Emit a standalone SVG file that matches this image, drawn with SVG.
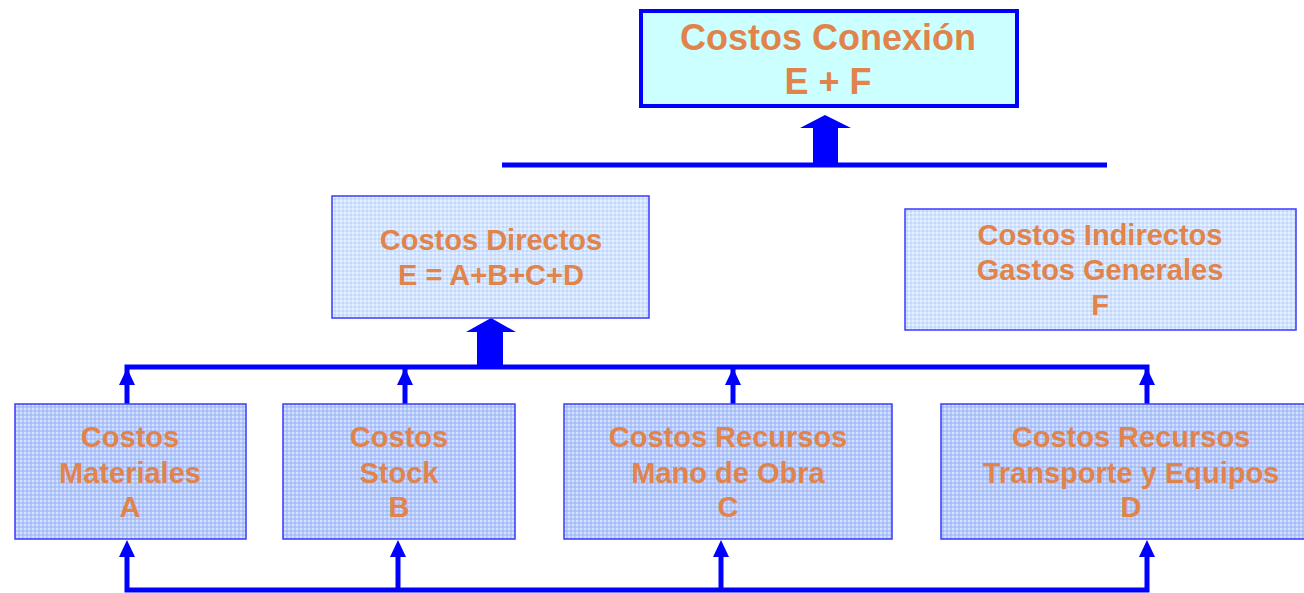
<svg xmlns="http://www.w3.org/2000/svg" width="1304" height="593" viewBox="0 0 1304 593">
<defs>
<pattern id="pDark" width="4" height="4" patternUnits="userSpaceOnUse">
<rect width="4" height="4" fill="#b4c8fb"/>
<rect x="0" y="0" width="2" height="2" fill="#d4e0ff"/>
<rect x="2" y="2" width="2" height="2" fill="#a4bcf6"/>
</pattern>
<pattern id="pLight" width="4" height="4" patternUnits="userSpaceOnUse">
<rect width="4" height="4" fill="#d2e4ff"/>
<rect x="0" y="0" width="2" height="2" fill="#e6f0ff"/>
<rect x="2" y="2" width="2" height="2" fill="#c2d8fa"/>
</pattern>
<marker id="ah" viewBox="0 0 16 17" refX="8" refY="0" markerWidth="16" markerHeight="17" markerUnits="userSpaceOnUse" orient="auto-start-reverse">
<path d="M0,17 L8,0 L16,17 Z" fill="#0000ff"/>
</marker>
</defs>
<style>
.t{font-family:"Liberation Sans",Arial,sans-serif;font-weight:bold;fill:#e0844c;text-anchor:middle}
.sm{stroke:#3a3aff;stroke-width:1.5}
.ln{stroke:#0000ff;stroke-width:5;fill:none}
</style>
<g id="connectors">
<line class="ln" x1="502" y1="165" x2="1107" y2="165"/>
<path d="M813,165 L813,128 L800,128 L825,115 L851,128 L838,128 L838,165 Z" fill="#0000ff"/>
<polyline class="ln" points="127,404 127,367 1147,367 1147,404"/>
<path d="M477,367 L477,332 L466,332 L491,318 L516,332 L503,332 L503,367 Z" fill="#0000ff"/>
<path d="M119,385 L127,368 L135,385 Z M397,385 L405,368 L413,385 Z M725,385 L733,368 L741,385 Z M1139,385 L1147,368 L1155,385 Z" fill="#0000ff"/>
<line class="ln" x1="405" y1="367" x2="405" y2="404"/>
<line class="ln" x1="733" y1="367" x2="733" y2="404"/>
<polyline class="ln" points="127,555 127,590 1147,590 1147,555"/>
<line class="ln" x1="398" y1="590" x2="398" y2="555"/>
<line class="ln" x1="721" y1="590" x2="721" y2="555"/>
<path d="M119,557 L127,540 L135,557 Z M390,557 L398,540 L406,557 Z M713,557 L721,540 L729,557 Z M1139,557 L1147,540 L1155,557 Z" fill="#0000ff"/>
</g>
<g id="conexion">
<rect x="641" y="11" width="376" height="95" fill="#ccffff" stroke="#0000ff" stroke-width="4"/>
<text class="t" x="828" y="50" font-size="36">Costos Conexión</text>
<text class="t" x="828" y="94" font-size="36">E + F</text>
</g>
<g id="directos">
<rect x="332" y="196" width="317" height="122" fill="url(#pLight)" class="sm"/>
<text class="t" x="491" y="250" font-size="29">Costos Directos</text>
<text class="t" x="491" y="285" font-size="29">E = A+B+C+D</text>
</g>
<g id="indirectos">
<rect x="905" y="209" width="391" height="121" fill="url(#pLight)" class="sm"/>
<text class="t" x="1100" y="245" font-size="29">Costos Indirectos</text>
<text class="t" x="1100" y="280" font-size="29">Gastos Generales</text>
<text class="t" x="1100" y="315" font-size="29">F</text>
</g>
<g id="materiales">
<rect x="15" y="404" width="231" height="135" fill="url(#pDark)" class="sm"/>
<text class="t" x="130" y="447" font-size="29">Costos</text>
<text class="t" x="130" y="483" font-size="29">Materiales</text>
<text class="t" x="130" y="517" font-size="29">A</text>
</g>
<g id="stock">
<rect x="283" y="404" width="232" height="135" fill="url(#pDark)" class="sm"/>
<text class="t" x="399" y="447" font-size="29">Costos</text>
<text class="t" x="399" y="483" font-size="29">Stock</text>
<text class="t" x="399" y="517" font-size="29">B</text>
</g>
<g id="manoobra">
<rect x="564" y="404" width="328" height="135" fill="url(#pDark)" class="sm"/>
<text class="t" x="728" y="447" font-size="29">Costos Recursos</text>
<text class="t" x="728" y="483" font-size="29">Mano de Obra</text>
<text class="t" x="728" y="517" font-size="29">C</text>
</g>
<g id="transporte">
<rect x="941" y="404" width="380" height="135" fill="url(#pDark)" class="sm"/>
<text class="t" x="1131" y="447" font-size="29">Costos Recursos</text>
<text class="t" x="1131" y="483" font-size="29">Transporte y Equipos</text>
<text class="t" x="1131" y="517" font-size="29">D</text>
</g>
</svg>
